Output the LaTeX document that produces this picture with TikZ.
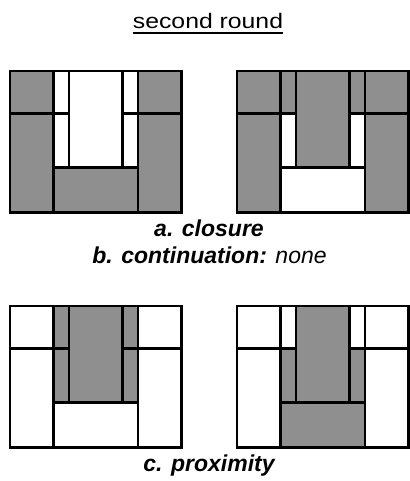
\documentclass[tikz,border=0pt]{standalone}
\usepackage{fontspec}
\setmainfont{Liberation Sans}
\definecolor{cellgray}{RGB}{143,143,143}
\tikzset{
  cell/.style={draw=black, line width=2.2pt},
  txt/.style={inner sep=0pt, anchor=base, font=\fontsize{23}{27}\selectfont},
  capt/.style={txt, font=\fontsize{23}{27}\selectfont\bfseries\itshape}
}
% #1,#2 = offset; #3 outer, #4 narrow top, #5 narrow low, #6 center, #7 bottom
\newcommand\drawpanel[7]{%
  \begin{scope}[shift={(#1,#2)}]
    \path[cell, fill=#3] (0,0) rectangle (43.5,42.5);
    \path[cell, fill=#3] (0,42.5) rectangle (43.5,141.5);
    \path[cell, fill=#3] (128,0) rectangle (171.5,42.5);
    \path[cell, fill=#3] (128,42.5) rectangle (171.5,141.5);
    \path[cell, fill=#4] (43.5,0) rectangle (59,42.5);
    \path[cell, fill=#4] (112.5,0) rectangle (128,42.5);
    \path[cell, fill=#5] (43.5,42.5) rectangle (59,96.5);
    \path[cell, fill=#5] (112.5,42.5) rectangle (128,96.5);
    \path[cell, fill=#6] (59,0) rectangle (112.5,96.5);
    \path[cell, fill=#7] (43.5,96.5) rectangle (128,141.5);
  \end{scope}}
\begin{document}
\begin{tikzpicture}[x=1pt,y=-1pt]
  \useasboundingbox (0,0) rectangle (409,481);
  \node[inner sep=0pt, anchor=base, font=\fontsize{21}{25}\selectfont] (title) at (208,28.5) {\scalebox{1.18}[1]{second round}};
  \draw[line width=2pt] ([yshift=-4.7pt]title.base west) -- ([yshift=-4.7pt]title.base east);
  \drawpanel{10}{71}{cellgray}{white}{white}{white}{cellgray}
  \drawpanel{237}{71}{cellgray}{cellgray}{white}{cellgray}{white}
  \node[capt] (capa) at (209,236) {a. closure};
  \node[txt] (capb) at (209.5,263) {\bfseries\itshape b. continuation:\mdseries\itshape{} none};
  \drawpanel{10}{306}{white}{cellgray}{cellgray}{cellgray}{white}
  \drawpanel{237}{306}{white}{white}{cellgray}{cellgray}{cellgray}
  \node[capt] (capc) at (209,471) {c. proximity};
\end{tikzpicture}
\end{document}
